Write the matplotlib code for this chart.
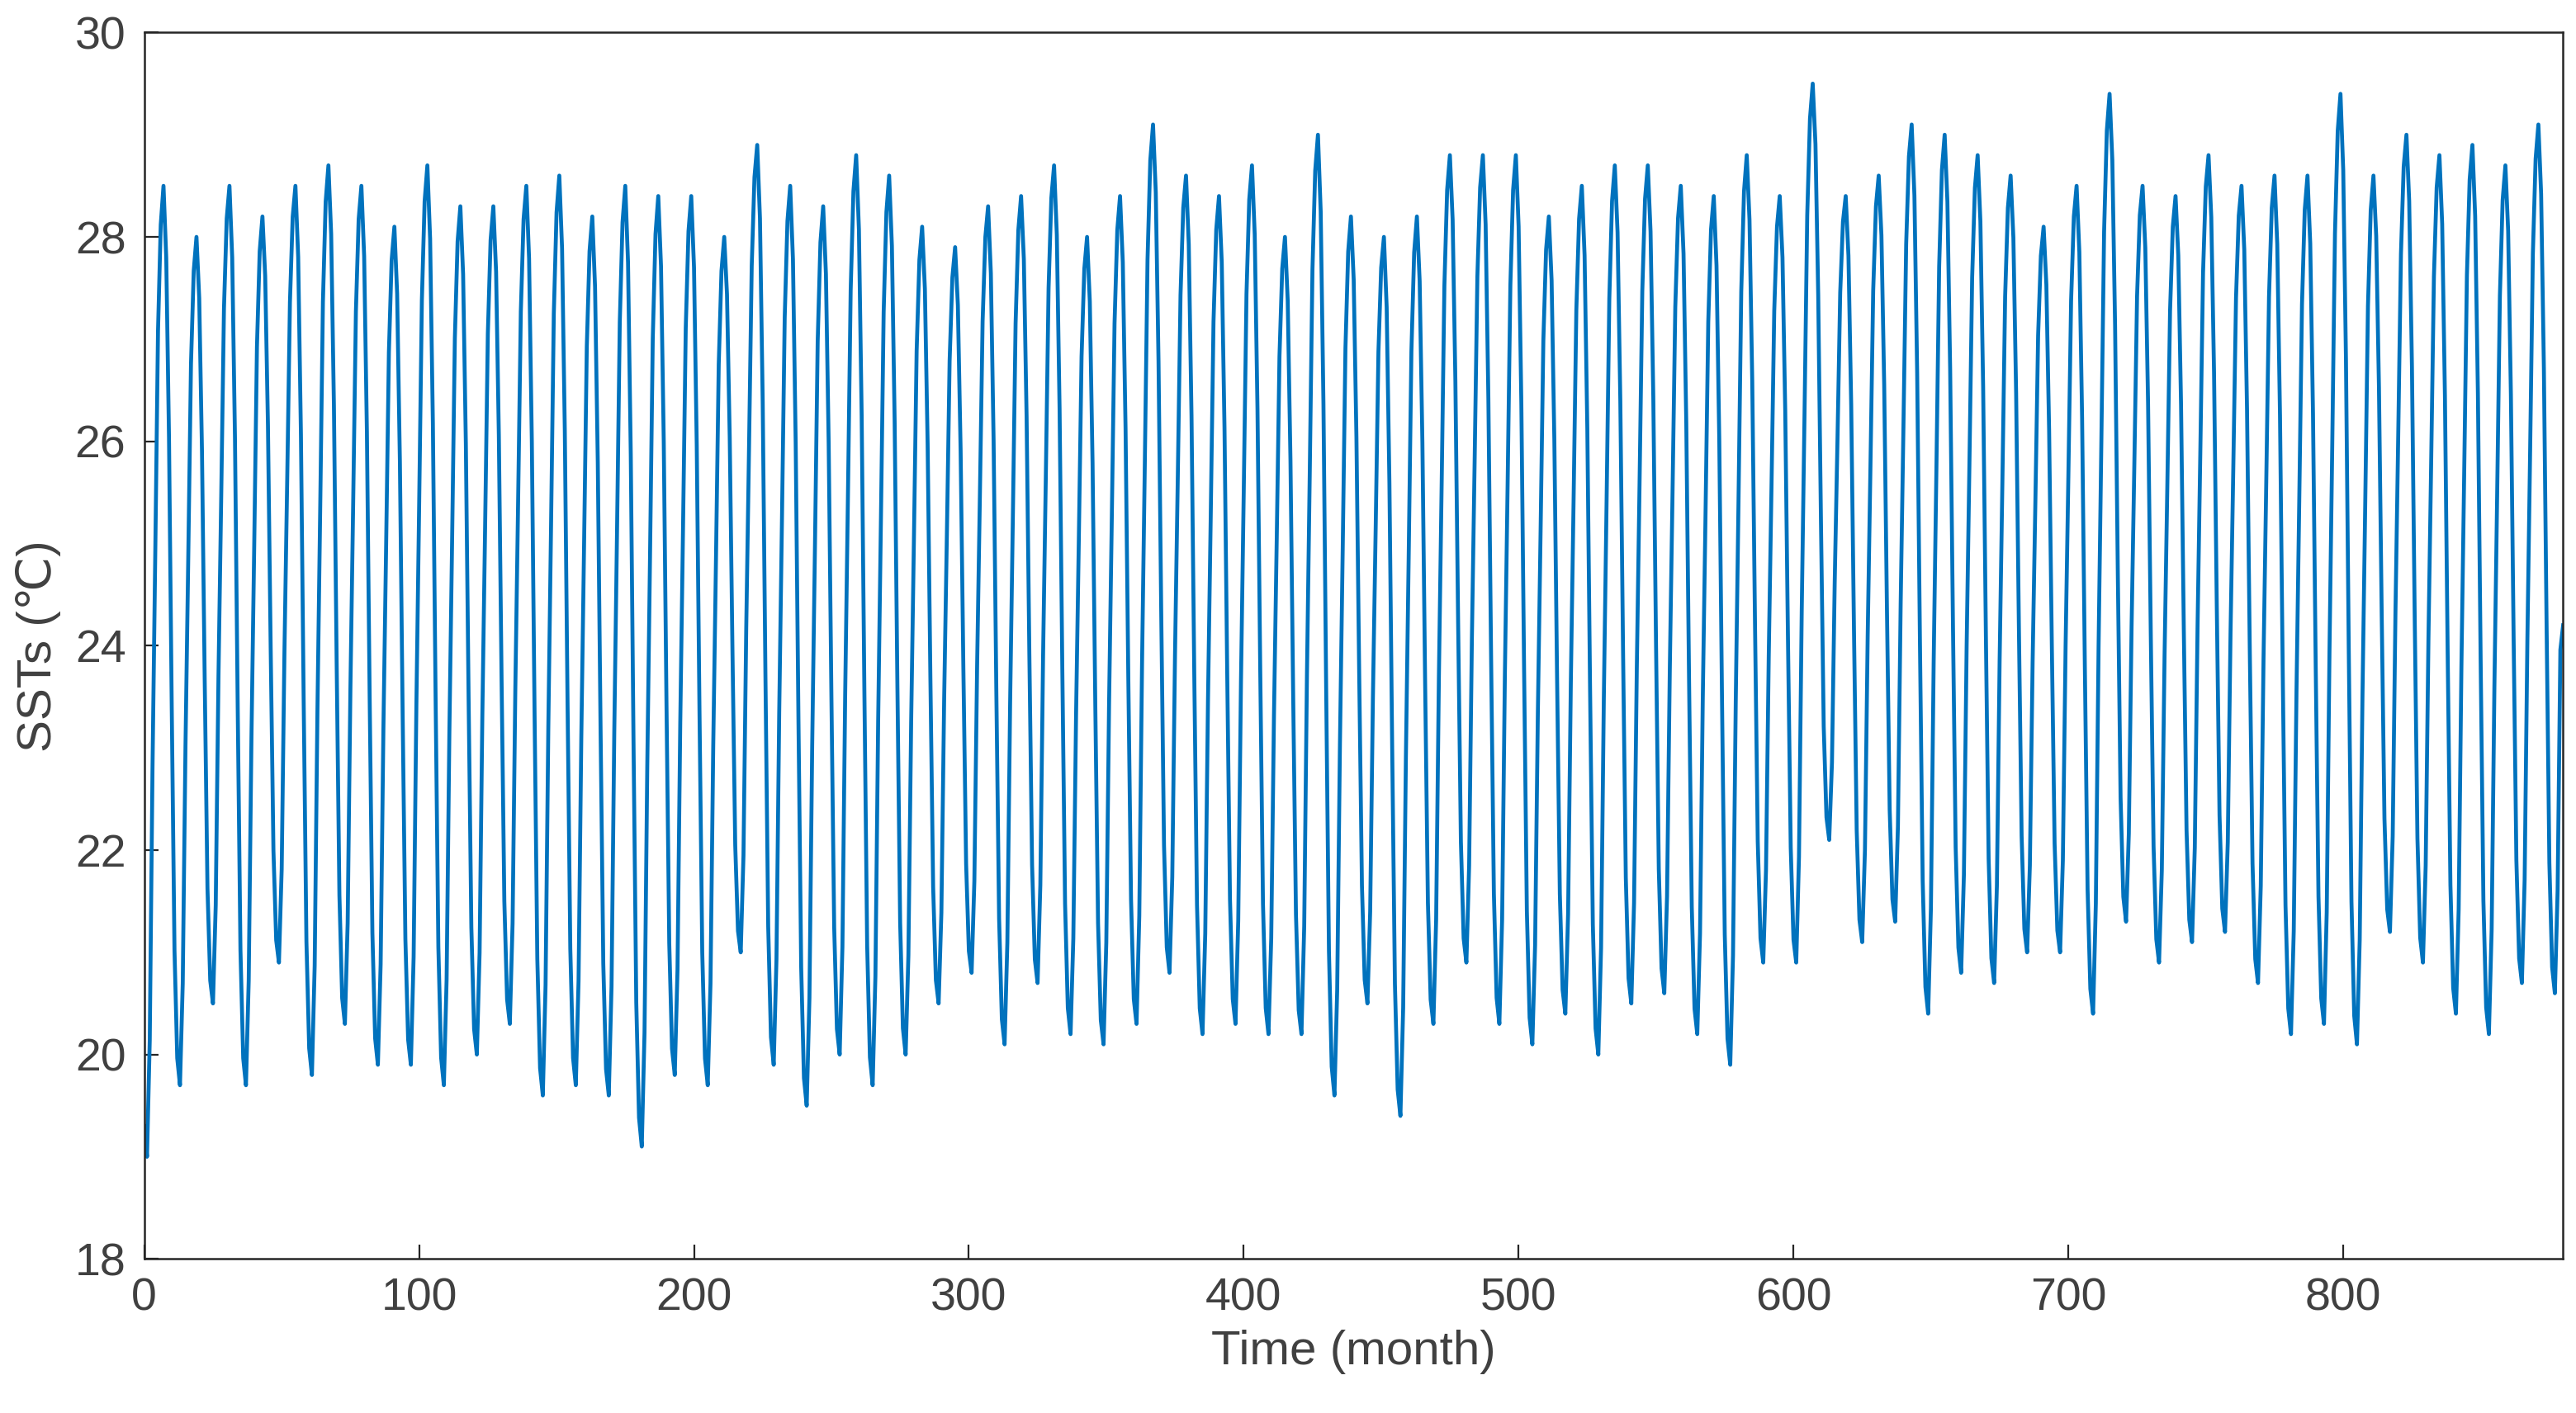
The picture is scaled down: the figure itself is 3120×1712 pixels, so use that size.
import numpy as np
import matplotlib
matplotlib.use("Agg")
from matplotlib import pyplot as plt

plt.rcParams['font.family'] = ['Liberation Sans', 'DejaVu Sans']

# yearly peak values, peaks near month 7, 19, 31, ...
peaks = [28.5, 28.0, 28.5, 28.2, 28.5, 28.7, 28.5, 28.1, 28.7, 28.3, 28.3, 28.5,
         28.6, 28.2, 28.5, 28.4, 28.4, 28.0, 28.9, 28.5, 28.3, 28.8, 28.6, 28.1,
         27.9, 28.3, 28.4, 28.7, 28.0, 28.4, 29.1, 28.6, 28.4, 28.7, 28.0, 29.0,
         28.2, 28.0, 28.2, 28.8, 28.8, 28.8, 28.2, 28.5, 28.7, 28.7, 28.5, 28.4,
         28.8, 28.4, 29.5, 28.4, 28.6, 29.1, 29.0, 28.8, 28.6, 28.1, 28.5, 29.4,
         28.5, 28.4, 28.8, 28.5, 28.6, 28.6, 29.4, 28.6, 29.0, 28.8, 28.9, 28.7,
         29.1, 29.0]
# yearly trough values, troughs near month 1, 13, 25, ...
troughs = [19.0, 19.7, 20.5, 19.7, 20.9, 19.8, 20.3, 19.9, 19.9, 19.7, 20.0, 20.3,
           19.6, 19.7, 19.6, 19.1, 19.8, 19.7, 21.0, 19.9, 19.5, 20.0, 19.7, 20.0,
           20.5, 20.8, 20.1, 20.7, 20.2, 20.1, 20.3, 20.8, 20.2, 20.3, 20.2, 20.2,
           19.6, 20.5, 19.4, 20.3, 20.9, 20.3, 20.1, 20.4, 20.0, 20.5, 20.6, 20.2,
           19.9, 20.9, 20.9, 22.1, 21.1, 21.3, 20.4, 20.8, 20.7, 21.0, 21.0, 20.4,
           21.3, 20.9, 21.1, 21.2, 20.7, 20.2, 20.3, 20.1, 21.2, 20.9, 20.4, 20.2,
           20.7, 20.6, 20.8]
# mean seasonal shape from trough (0) to peak (1)
profile = [0.0, 0.12, 0.4, 0.62, 0.85, 0.96, 1.0, 0.92, 0.72, 0.42, 0.15, 0.03]
first_value = 19.3
last_value = 24.2
n_months = 881

sst = [first_value]
for k in range(len(peaks)):
    for j in range(12):
        lo = troughs[k] if j <= 6 else troughs[k + 1]
        sst.append(lo + (peaks[k] - lo) * profile[j])
sst = np.array(sst[:n_months])
sst[-1] = last_value
t = np.arange(len(sst))

fig = plt.figure(figsize=(15.6, 8.56), dpi=200)
ax = fig.add_axes([0.056, 0.109, 0.939, 0.868])
ax.plot(t, sst, color='#0072BD', linewidth=1.7)
ax.set_xlim(0, 880)
ax.set_ylim(18, 30)
ax.set_xticks(np.arange(0, 801, 100))
ax.set_yticks(np.arange(18, 31, 2))
ax.tick_params(direction='in', labelsize=20, colors='#262626', labelcolor='#404040',
               length=6, pad=8, top=False, right=False)
for s in ax.spines.values():
    s.set_color('#262626')
    s.set_linewidth(0.9)
ax.set_xlabel('Time (month)', fontsize=21, color='#404040', labelpad=4)
ax.set_ylabel('SSTs (℃)', fontsize=21, color='#404040', labelpad=6)
fig.savefig('out.png', dpi=200)
